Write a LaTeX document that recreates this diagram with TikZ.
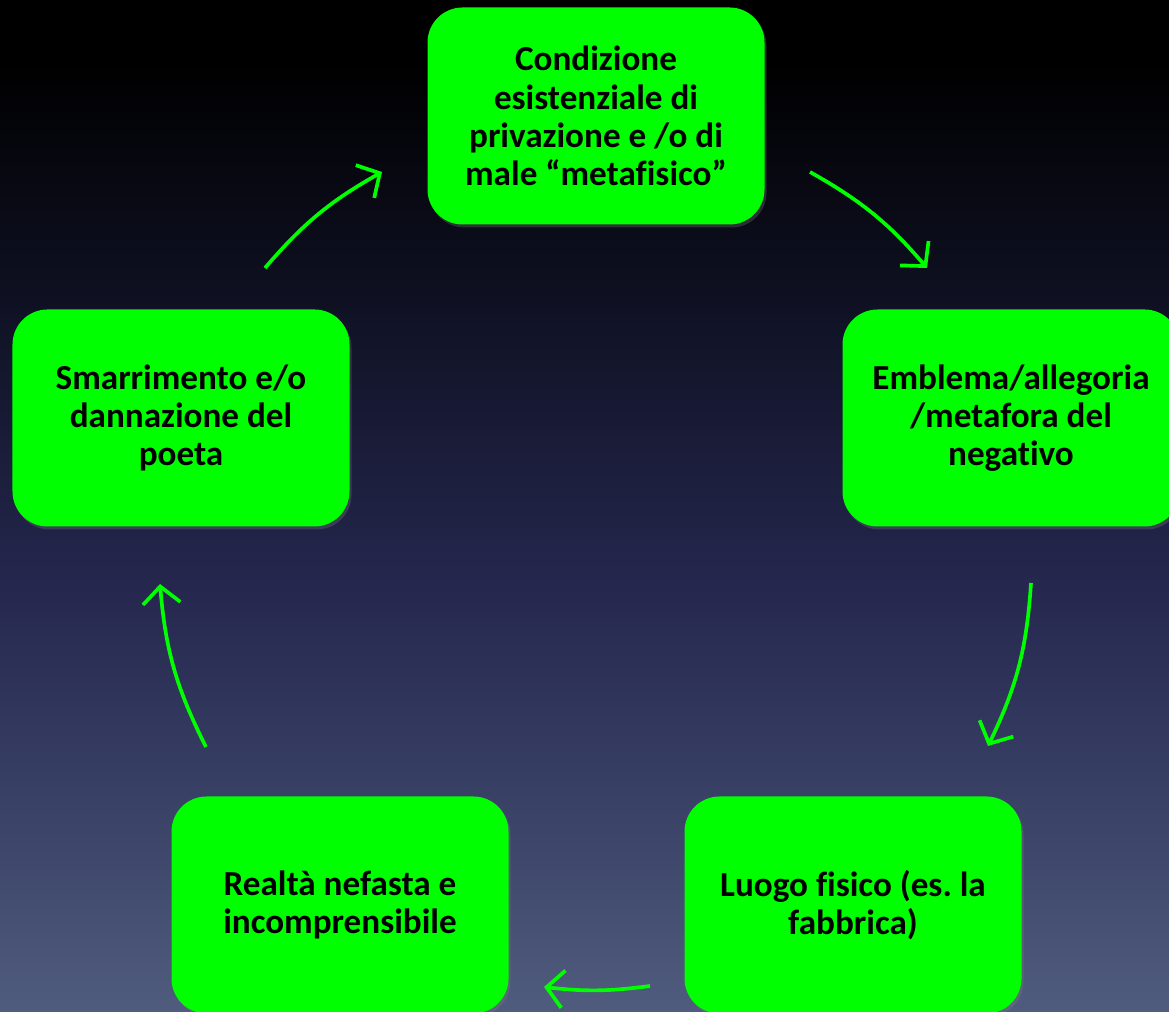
\documentclass[tikz,border=0pt]{standalone}
\usepackage{fontspec}
\setmainfont{Carlito}[RawFeature=-liga]
\usepackage{tikz}
\usetikzlibrary{positioning,calc,shadows,arrows.meta}
\frenchspacing
\definecolor{boxgreen}{RGB}{0, 255, 0}
\definecolor{bgbot}{RGB}{80, 92, 125}
\definecolor{bglow}{RGB}{65, 75, 110}
\definecolor{bgmid}{RGB}{38, 40, 80}
\definecolor{bghigh}{RGB}{15, 17, 35}
\pgfdeclareverticalshading{bgshade}{100bp}{%
  color(0bp)=(bgbot); color(25bp)=(bgbot); color(31.5bp)=(bglow);
  color(45.5bp)=(bgmid); color(60bp)=(bghigh); color(72bp)=(black);
  color(100bp)=(black)}
\tikzset{
  stepbox/.style = {fill=boxgreen, rounded corners=0.7cm,
                    minimum width=6.74cm, minimum height=4.34cm,
                    align=center,
                    font=\fontsize{20}{21.8}\selectfont\bfseries,
                    drop shadow={opacity=0.3, shadow xshift=0.04cm, shadow yshift=-0.06cm}},
  flow/.style    = {-{Straight Barb[length=3.4mm, width=7.5mm, line width=2.1pt]},
                    boxgreen, line width=2.1pt},
}

\begin{document}
\begin{tikzpicture}
        % -- Background -------------------------------------------------
        \shade[shading=bgshade] (0,0) rectangle (23.38,20.24);
        \useasboundingbox (0,0) rectangle (23.38,20.24);

        % -- Boxes ------------------------------------------------------
        \node[stepbox] (cond) at (11.92,17.92)
            {Condizione\\esistenziale di\\privazione e /o di\\male “metafisico”};
        \node[stepbox] (embl) at (20.22,11.88)
            {Emblema/allegoria\\/metafora del\\negativo};
        \node[stepbox] (luogo) at (17.06,2.14)
            {Luogo fisico (es. la\\fabbrica)};
        \node[stepbox] (real) at (6.80,2.14)
            {Realtà nefasta e\\incomprensibile};
        \node[stepbox] (smarr) at (3.62,11.88)
            {Smarrimento e/o\\dannazione del\\poeta};

        % -- Cycle arrows -----------------------------------------------
        \coordinate (c1s) at (16.20,16.80);  \coordinate (c1e) at (18.54,14.88);
        \coordinate (c2s) at (20.62,8.58);   \coordinate (c2e) at (19.76,5.32);
        \coordinate (c3s) at (13.00,0.52);   \coordinate (c3e) at (10.88,0.50);
        \coordinate (c4s) at (4.12,5.30);    \coordinate (c4e) at (3.20,8.56);
        \coordinate (c5s) at (5.30,14.88);   \coordinate (c5e) at (7.64,16.80);
        \draw[flow] (c1s) to[bend left=10] (c1e);
        \draw[flow] (c2s) to[bend left=11] (c2e);
        \draw[flow] (c3s) to[bend left=7] (c3e);
        \draw[flow] (c4s) to[bend left=11] (c4e);
        \draw[flow] (c5s) to[bend left=10] (c5e);
    \end{tikzpicture}
\end{document}
